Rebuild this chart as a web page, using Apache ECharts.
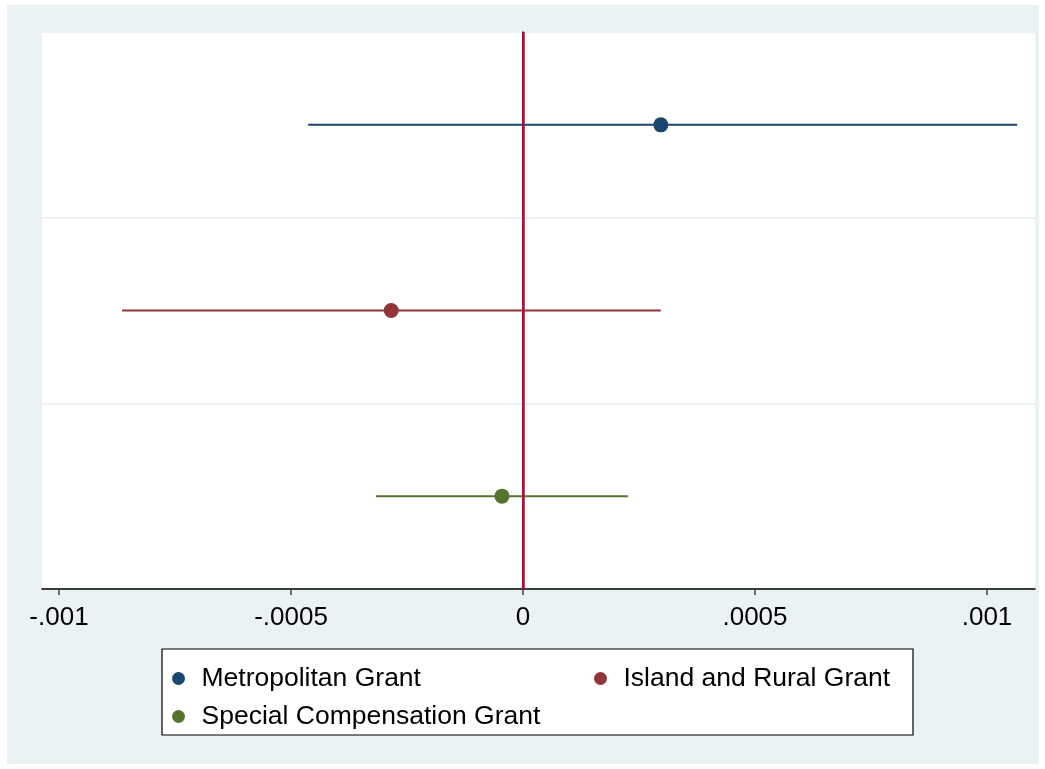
<!DOCTYPE html>
<html>
<head>
<meta charset="utf-8">
<script src="https://cdn.jsdelivr.net/npm/echarts@6/dist/echarts.min.js"></script>
<style>
  html, body { margin: 0; padding: 0; background: #fff; }
  #chart { width: 1045px; height: 769px; }
</style>
</head>
<body>
<div id="chart"></div>
<script>
// coefficient estimates and 95% CI, one row per grant
var categories = ['Metropolitan Grant', 'Island and Rural Grant', 'Special Compensation Grant'];
var estimates = [0.000297, -0.000284, -0.0000453];
var lowerCI = [-0.000463, -0.000864, -0.000317];
var upperCI = [0.001065, 0.000297, 0.000226];
var colors = ['#1A476F', '#90353B', '#55752F'];
var tickValues = [-0.001, -0.0005, 0, 0.0005, 0.001];
var tickLabels = ['-.001', '-.0005', '0', '.0005', '.001'];

var chart = echarts.init(document.getElementById('chart'));
var font = "'Liberation Sans', Arial, Helvetica, sans-serif";

var series = [];
categories.forEach(function (name, i) {
  // CI line
  series.push({
    name: name,
    type: 'custom',
    itemStyle: { color: colors[i] },
    encode: { x: [0, 1], y: 2 },
    data: [[lowerCI[i], upperCI[i], i]],
    renderItem: function (params, api) {
      var y = api.value(2);
      var p1 = api.coord([api.value(0), y]);
      var p2 = api.coord([api.value(1), y]);
      return {
        type: 'line',
        shape: { x1: p1[0], y1: p1[1], x2: p2[0], y2: p2[1] },
        style: { stroke: api.visual('color'), lineWidth: 2 }
      };
    },
    z: 2
  });
  // point estimate
  series.push({
    name: name,
    type: 'scatter',
    symbol: 'circle',
    symbolSize: 15,
    itemStyle: { color: colors[i], opacity: 1 },
    data: [[estimates[i], i]],
    z: 4
  });
});

// reference line at zero
series[1].markLine = {
  silent: true,
  symbol: 'none',
  label: { show: false },
  lineStyle: { color: '#C10534', width: 2.5, type: 'solid' },
  data: [{ xAxis: 0 }],
  z: 3
};

var option = {
  backgroundColor: '#fff',
  animation: false,
  textStyle: { fontFamily: font },
  graphic: [
    { type: 'rect', z: -10, silent: true,
      shape: { x: 7, y: 5, width: 1032, height: 759 },
      style: { fill: '#EAF2F3' } },
    { type: 'rect', z: -9, silent: true,
      shape: { x: 42, y: 32, width: 993, height: 557 },
      style: { fill: '#fff' } },
    { type: 'rect', z: -8, silent: true,
      shape: { x: 162, y: 649, width: 751, height: 86 },
      style: { fill: '#fff', stroke: '#000', lineWidth: 1.2 } }
  ],
  grid: { left: 42, top: 32, right: 10, bottom: 180 },
  xAxis: {
    type: 'value',
    min: -0.0010366,
    max: 0.0011034,
    axisLine: { show: true, lineStyle: { color: '#000', width: 1.5 } },
    axisTick: { show: true, length: 6, customValues: tickValues, lineStyle: { color: '#444', width: 1.5 } },
    axisLabel: {
      customValues: tickValues,
      margin: 16,
      fontSize: 26,
      color: '#000',
      fontFamily: font,
      formatter: function (v) {
        for (var k = 0; k < tickValues.length; k++) {
          if (Math.abs(tickValues[k] - v) < 1e-9) return tickLabels[k];
        }
        return '';
      }
    },
    splitLine: { show: false }
  },
  yAxis: {
    type: 'category',
    data: categories,
    inverse: true,
    axisLine: { show: true, lineStyle: { color: '#000', width: 1.5 } },
    axisTick: { show: false },
    axisLabel: { show: false },
    splitLine: { show: true, lineStyle: { color: '#EAF2F3', width: 2 } }
  },
  legend: [
    {
      left: 172, top: 665, orient: 'vertical', padding: 0,
      itemWidth: 36, itemHeight: 13, itemGap: 11,
      icon: 'circle',
      textStyle: { fontSize: 26.5, color: '#000', lineHeight: 26, fontFamily: font },
      data: [categories[0], categories[2]]
    },
    {
      left: 594, top: 665, orient: 'vertical', padding: 0,
      itemWidth: 36, itemHeight: 13, itemGap: 11,
      icon: 'circle',
      textStyle: { fontSize: 26.5, color: '#000', lineHeight: 26, fontFamily: font },
      data: [categories[1]]
    }
  ],
  series: series
};
chart.setOption(option);
</script>
</body>
</html>
